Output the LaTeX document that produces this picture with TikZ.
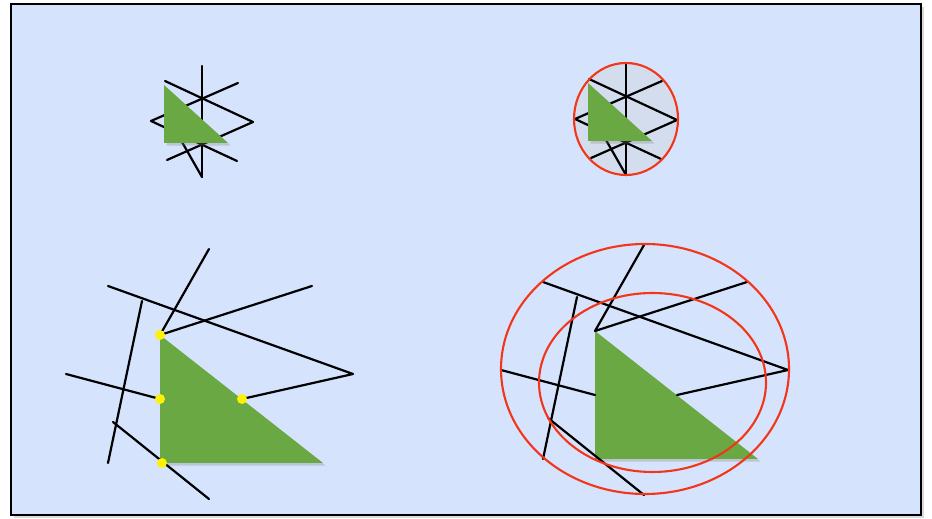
\documentclass[tikz,border=0pt]{standalone}
\usepackage{tikz}
\usetikzlibrary{shadows}

\definecolor{panelblue}{HTML}{D6E3FC}
\definecolor{trigreen}{HTML}{6AA843}
\definecolor{bvred}{HTML}{F2361A}
\definecolor{bvfill}{HTML}{D4DDEE}

% small star of segments round a little triangle
\newcommand{\smallset}{%
  \coordinate (st) at (202,66);  \coordinate (sb) at (202,177);
  \coordinate (sl) at (151,121); \coordinate (sr) at (253,122);
  \coordinate (sul) at (165,81); \coordinate (sur) at (238,83);
  \coordinate (sll) at (167,160);\coordinate (slr) at (237,161);
  \coordinate (sm) at (182,142);
  \draw[seg] (st) -- (sb);
  \draw[seg] (sul) -- (sr) -- (sll);
  \draw[seg] (sur) -- (sl) -- (slr);
  \draw[seg] (sb) -- (sm);
  \fill[tri] (164,85) -- (164,143) -- (228,143) -- cycle;
}

% large set of segments round a big triangle
\newcommand{\bigset}{%
  \coordinate (ta) at (160,335); \coordinate (tb) at (160,463);
  \coordinate (tc) at (323,463);
  \coordinate (ml) at (160,399); \coordinate (mh) at (242,399);
  \coordinate (mb) at (162,463);
  \fill[tri] (ta) -- (tb) -- (tc) -- cycle;
  \draw[seg] (209,249) -- (ta) -- (312,286);
  \draw[seg] (108,286) -- (353,374) -- (mh);
  \draw[seg] (142,301) -- (108,463);
  \draw[seg] (66,374) -- (ml);
  \draw[seg] (113,422) -- (209,499);
}

\begin{document}
\begin{tikzpicture}[
  x=0.02cm,y=-0.02cm,
  seg/.style={line width=1.25pt,line cap=round,line join=round},
  tri/.style={fill=trigreen,drop shadow={shadow xshift=1.5pt,shadow yshift=-1.5pt,opacity=0.3}},
  bound/.style={draw=bvred,line width=1.2pt},
  hit/.style={fill=yellow,radius=5}
]
\useasboundingbox (0,0) rectangle (932,519);
\fill[panelblue,draw=black,line width=1.1pt,
  drop shadow={shadow xshift=1.5pt,shadow yshift=-1.5pt,opacity=0.3}] (11,4) rectangle (921,515);

% top left
\smallset

% top right
\begin{scope}[shift={(424,-2)}]
  \fill[bvfill] (202,121) ellipse [x radius=52,y radius=56];
  \smallset
  \draw[bound] (202,121) ellipse [x radius=52,y radius=56];
\end{scope}

% bottom left
\bigset
\foreach \p in {ta,ml,mh,mb}
  \fill[hit] (\p) circle;

% bottom right
\begin{scope}[shift={(435,-4)}]
  \bigset
  \draw[bound] (210,373) ellipse [x radius=144,y radius=125];
  \draw[bound] (217.5,386.5) ellipse [x radius=113.5,y radius=89.5];
\end{scope}
\end{tikzpicture}
\end{document}
